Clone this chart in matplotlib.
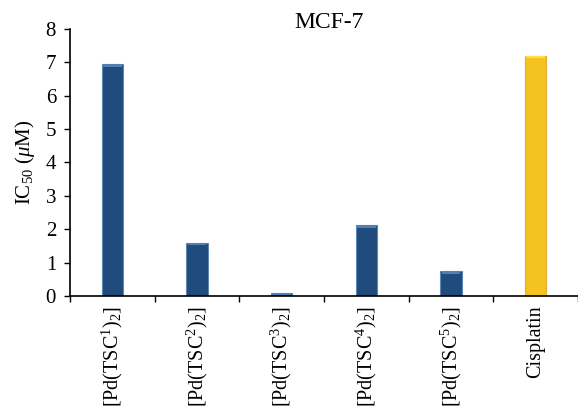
import matplotlib
matplotlib.use('Agg')
import matplotlib.pyplot as plt
import numpy as np

labels=[r'[Pd(TSC$^{1}$)$_{2}$]',r'[Pd(TSC$^{2}$)$_{2}$]',r'[Pd(TSC$^{3}$)$_{2}$]',
        r'[Pd(TSC$^{4}$)$_{2}$]',r'[Pd(TSC$^{5}$)$_{2}$]','Cisplatin']
ic50=[6.95,1.6,0.1,2.13,0.75,7.2]
colors=['#1f4b7d','#1f4b7d','#1f4b7d','#1f4b7d','#1f4b7d','#f4c31f']
edges=['#5d86b3','#5d86b3','#5d86b3','#5d86b3','#5d86b3','#e0b030']
tops=['#4f7fb5','#4f7fb5','#4f7fb5','#4f7fb5','#4f7fb5','#f8e04c']

plt.rcParams['font.family']='Liberation Serif'
plt.rcParams['mathtext.fontset']='custom'
plt.rcParams['mathtext.rm']='Liberation Serif'
plt.rcParams['mathtext.it']='Liberation Serif:italic'

fig=plt.figure(figsize=(5.78,4.12),dpi=100)
ax=fig.add_axes([0.121,0.2816,0.879,0.648])

x=np.arange(len(ic50))
ax.bar(x,ic50,width=0.25,color=colors,edgecolor=edges,linewidth=0.8)
# light bevel at the top of each bar
cap=[min(v,0.08) for v in ic50]
ax.bar(x,cap,bottom=np.array(ic50)-np.array(cap),width=0.22,color=tops,linewidth=0)

ax.set_xlim(-0.5,5.407)
ax.set_ylim(0,8)
ax.set_yticks(range(0,9))
ax.tick_params(axis='y',labelsize=15,direction='out',length=4,width=1,pad=6)
ax.set_xticks(x)
ax.set_xticklabels(labels,rotation=90,fontsize=14.5)
ax.tick_params(axis='x',length=0,pad=7)
ax.set_xticks(np.arange(-0.5,6,1),minor=True)
ax.tick_params(axis='x',which='minor',direction='out',length=4,width=1)

ax.spines['top'].set_visible(False)
ax.spines['right'].set_visible(False)
ax.spines['left'].set_linewidth(1.2)
ax.spines['bottom'].set_linewidth(1.2)

ax.set_ylabel(r'IC$_{50}$ ($\mu$M)',fontsize=15,labelpad=6)
ax.text(0.51,1.005,'MCF-7',transform=ax.transAxes,ha='center',va='baseline',fontsize=17)

plt.savefig('out.png',dpi=100)
